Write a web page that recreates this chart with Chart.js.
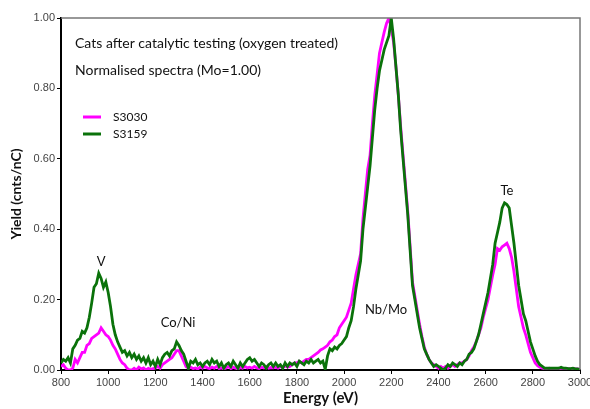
<!DOCTYPE html>
<html>
<head>
<meta charset="utf-8">
<script src="https://cdn.jsdelivr.net/npm/chart.js@4/dist/chart.umd.min.js"></script>
<style>
  html, body { margin: 0; padding: 0; background: #fff; }
  #wrap { width: 590px; height: 409px; }
</style>
</head>
<body>
<div id="wrap"><canvas id="chart" width="590" height="409"></canvas></div>
<script>
// Energy grid (eV), 10 eV steps from 800 to 3000
const energies = [];
for (let e = 800; e <= 3000; e += 10) energies.push(e);

const seriesNames = ['S3030', 'S3159'];

// S3030 (magenta)
const s3030 = [
  0.01, 0.015, 0.005, 0.0, 0.0, 0.005, 0.03, 0.02, 0.035, 0.05,
  0.05, 0.07, 0.075, 0.09, 0.095, 0.1, 0.105, 0.12, 0.11, 0.1,
  0.095, 0.085, 0.07, 0.06, 0.045, 0.03, 0.02, 0.015, 0.005, 0.0,
  0.0, 0.005, 0.0, 0.008, 0.003, 0.006, 0.0, 0.005, 0.002, 0.004,
  0.005, 0.01, 0.005, 0.015, 0.02, 0.025, 0.03, 0.035, 0.045, 0.055,
  0.055, 0.04, 0.025, 0.01, 0.005, 0.008, 0.004, 0.006, 0.003, 0.008,
  0.005, 0.01, 0.006, 0.004, 0.008, 0.005, 0.01, 0.004, 0.006, 0.003,
  0.006, 0.01, 0.004, 0.008, 0.005, 0.003, 0.007, 0.005, 0.01, 0.006,
  0.008, 0.005, 0.01, 0.006, 0.004, 0.008, 0.006, 0.01, 0.005, 0.007,
  0.006, 0.008, 0.005, 0.01, 0.007, 0.012, 0.008, 0.01, 0.015, 0.02,
  0.02, 0.025, 0.02, 0.025, 0.03, 0.03, 0.035, 0.04, 0.045, 0.05,
  0.057, 0.06, 0.065, 0.07, 0.08, 0.085, 0.095, 0.1, 0.12, 0.13,
  0.14, 0.15, 0.17, 0.19, 0.23, 0.27, 0.3, 0.33, 0.43, 0.5,
  0.57, 0.61, 0.7, 0.78, 0.84, 0.9, 0.93, 0.96, 0.985, 1.0,
  0.97, 0.93, 0.86, 0.78, 0.69, 0.61, 0.53, 0.45, 0.35, 0.25,
  0.21, 0.17, 0.13, 0.095, 0.065, 0.045, 0.03, 0.02, 0.015, 0.01,
  0.005, 0.01, 0.005, 0.01, 0.005, 0.01, 0.015, 0.01, 0.015, 0.02,
  0.02, 0.025, 0.03, 0.04, 0.055, 0.065, 0.08, 0.1, 0.12, 0.15,
  0.175, 0.2, 0.235, 0.27, 0.3, 0.345, 0.34, 0.35, 0.355, 0.36,
  0.345, 0.32, 0.28, 0.23, 0.18, 0.15, 0.12, 0.1, 0.075, 0.05,
  0.035, 0.02, 0.012, 0.008, 0.005, 0.004, 0.004, 0.005, 0.003, 0.004,
  0.004, 0.003, 0.005, 0.004, 0.003, 0.004, 0.003, 0.004, 0.003, 0.003,
  0.002
];

// S3159 (green)
const s3159 = [
  0.02, 0.03, 0.025, 0.035, 0.02, 0.06, 0.07, 0.085, 0.09, 0.11,
  0.105, 0.12, 0.15, 0.19, 0.235, 0.245, 0.275, 0.26, 0.235, 0.25,
  0.22, 0.18, 0.13, 0.1, 0.08, 0.065, 0.05, 0.055, 0.04, 0.05,
  0.035, 0.045, 0.03, 0.04, 0.025, 0.035, 0.02, 0.035, 0.015, 0.025,
  0.01, 0.03, 0.015, 0.035, 0.045, 0.05, 0.04, 0.055, 0.06, 0.08,
  0.07, 0.055, 0.045, 0.025, 0.005, 0.025, 0.02, 0.03, 0.015, 0.02,
  0.01, 0.02, 0.025, 0.015, 0.03, 0.02, 0.025, 0.01, 0.02, 0.005,
  0.015, 0.02, 0.01, 0.025, 0.015, 0.005, 0.02, 0.01, 0.02, 0.03,
  0.035, 0.025, 0.03, 0.02, 0.01, 0.02, 0.015, 0.005, 0.015, 0.02,
  0.01, 0.02, 0.01, 0.015, 0.005, 0.02, 0.01, 0.02, 0.015, 0.02,
  0.01, 0.025, 0.02, 0.015, 0.025, 0.02, 0.03, 0.02, 0.025, 0.03,
  0.02, 0.025, 0.002, 0.04, 0.06, 0.055, 0.065, 0.06, 0.07, 0.075,
  0.085, 0.095, 0.12, 0.14, 0.18, 0.23, 0.27, 0.31, 0.4, 0.46,
  0.52, 0.58, 0.66, 0.74, 0.8, 0.85, 0.88, 0.91, 0.93, 0.95,
  1.0, 0.94, 0.86, 0.78, 0.68, 0.6, 0.52, 0.44, 0.34, 0.24,
  0.2, 0.16, 0.12, 0.09, 0.06, 0.045, 0.03, 0.02, 0.01, 0.015,
  0.01, 0.005, 0.0, 0.005, 0.015, 0.01, 0.02, 0.015, 0.01, 0.02,
  0.015, 0.025, 0.03, 0.045, 0.05, 0.06, 0.08, 0.1, 0.13, 0.16,
  0.19, 0.22, 0.26, 0.3, 0.36, 0.39, 0.42, 0.46, 0.475, 0.47,
  0.46, 0.41, 0.36, 0.3, 0.24, 0.2, 0.16, 0.14, 0.11, 0.08,
  0.06, 0.04, 0.025, 0.015, 0.01, 0.005, 0.005, 0.005, 0.005, 0.005,
  0.005, 0.005, 0.008, 0.005, 0.005, 0.004, 0.004, 0.005, 0.003, 0.003,
  0.002
];

const titleLines = ['Cats after catalytic testing (oxygen treated)', 'Normalised spectra (Mo=1.00)'];

// Peak labels: [text, energy, yield]
const peakLabels = [
  ['V', 970, 0.307],
  ['Co/Ni', 1296, 0.134],
  ['Nb/Mo', 2178, 0.17],
  ['Te', 2690, 0.51]
];

const colors = ['#ff00ff', '#0a720a'];
const handFont = 'Lato, "DejaVu Sans", sans-serif';

function toPoints(vals) {
  return vals.map((v, i) => ({ x: energies[i], y: v }));
}

const overlay = {
  id: 'overlay',
  afterDraw(chart) {
    const { ctx, chartArea: a, scales } = chart;
    ctx.save();
    // frame top/right
    ctx.strokeStyle = '#777';
    ctx.lineWidth = 1.5;
    ctx.beginPath();
    ctx.moveTo(a.left, a.top);
    ctx.lineTo(a.right, a.top);
    ctx.lineTo(a.right, a.bottom);
    ctx.stroke();

    ctx.fillStyle = '#111';
    ctx.textBaseline = 'middle';
    ctx.textAlign = 'left';
    ctx.font = '14px ' + handFont;
    ctx.fillText(titleLines[0], a.left + 14, a.top + 25);
    ctx.fillText(titleLines[1], a.left + 14, a.top + 52);

    // legend
    seriesNames.forEach((name, i) => {
      const y = a.top + 99 + i * 17;
      ctx.strokeStyle = colors[i];
      ctx.lineWidth = 3;
      ctx.beginPath();
      ctx.moveTo(a.left + 22, y);
      ctx.lineTo(a.left + 40, y);
      ctx.stroke();
      ctx.fillStyle = '#111';
      ctx.font = '12px ' + handFont;
      ctx.fillText(name, a.left + 52, y);
    });

    // peak labels
    ctx.textAlign = 'center';
    ctx.font = '13px ' + handFont;
    peakLabels.forEach(([t, e, v]) => {
      ctx.fillText(t, scales.x.getPixelForValue(e), scales.y.getPixelForValue(v));
    });
    ctx.restore();
  }
};

new Chart(document.getElementById('chart'), {
  type: 'line',
  data: {
    datasets: [
      // green drawn on top of magenta, as in the picture
      { label: seriesNames[0], data: toPoints(s3030), borderColor: colors[0], borderWidth: 2.8, order: 1 },
      { label: seriesNames[1], data: toPoints(s3159), borderColor: colors[1], borderWidth: 2.8, order: 0 }
    ]
  },
  options: {
    responsive: false,
    animation: false,
    layout: { padding: { top: 18, right: 10, left: 0, bottom: 0 } },
    elements: { point: { radius: 0 }, line: { tension: 0 } },
    plugins: { legend: { display: false }, tooltip: { enabled: false } },
    scales: {
      x: {
        type: 'linear',
        min: 800, max: 3000,
        afterFit(s) { s.height = 39; s.paddingRight = 0; s.paddingLeft = 0; },
        grid: { display: true, drawOnChartArea: false, drawTicks: true, tickLength: 4, color: '#000' },
        border: { display: true, color: '#000', width: 2 },
        ticks: { stepSize: 200, color: '#444', padding: 2, font: { family: 'Liberation Sans, Arial, sans-serif', size: 11 },
          callback: v => String(v) },
        title: { display: true, text: 'Energy (eV)', color: '#111', padding: { top: 0, bottom: 2 }, font: { family: handFont, size: 15, weight: 'bold' } }
      },
      y: {
        min: 0, max: 1,
        afterFit(s) { s.width = 61; s.paddingTop = 0; s.paddingBottom = 0; },
        grid: { display: true, drawOnChartArea: false, drawTicks: true, tickLength: 4, color: '#000' },
        border: { display: true, color: '#000', width: 2 },
        ticks: { stepSize: 0.2, color: '#444', padding: 2, font: { family: 'Liberation Sans, Arial, sans-serif', size: 11 },
          callback: v => v.toFixed(2) },
        title: { display: true, text: 'Yield (cnts/nC)', color: '#111', padding: { top: 8, bottom: 0 }, font: { family: handFont, size: 14, weight: 'bold' } }
      }
    }
  },
  plugins: [overlay]
});
</script>
</body>
</html>
